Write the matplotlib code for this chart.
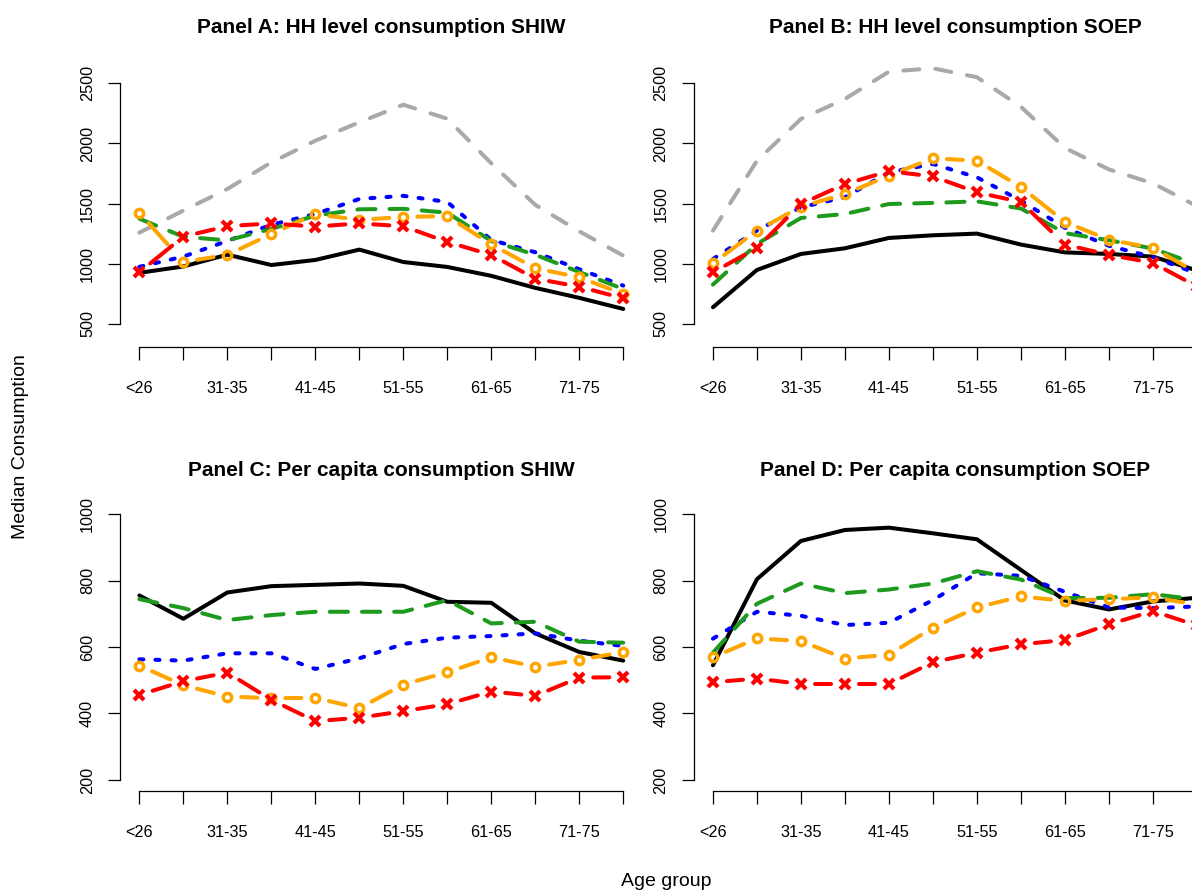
import numpy as np
import matplotlib.pyplot as plt

plt.rcParams['font.family'] = ['Liberation Sans', 'DejaVu Sans']

age_groups = ['<26', '26-30', '31-35', '36-40', '41-45', '46-50',
              '51-55', '56-60', '61-65', '66-70', '71-75', '>75']

# Panel A: HH level consumption SHIW
a_black = [925, 978, 1076, 990, 1032, 1118, 1015, 974, 900, 800, 717, 625]
a_gray = [1259, 1442, 1622, 1843, 2023, 2176, 2322, 2206, 1835, 1490, 1270, 1068]
a_blue = [975, 1060, 1190, 1325, 1414, 1539, 1565, 1514, 1198, 1096, 955, 819]
a_green = [1375, 1225, 1195, 1290, 1400, 1453, 1457, 1425, 1190, 1075, 932, 791]
a_orange = [1425, 1015, 1074, 1248, 1414, 1364, 1390, 1396, 1162, 963, 888, 749]
a_red = [930, 1226, 1313, 1336, 1309, 1336, 1312, 1182, 1074, 877, 810, 713]

# Panel B: HH level consumption SOEP
b_black = [639, 949, 1082, 1129, 1215, 1237, 1251, 1160, 1095, 1082, 1060, 945]
b_gray = [1276, 1857, 2204, 2370, 2597, 2625, 2551, 2305, 1963, 1785, 1669, 1480]
b_blue = [1040, 1276, 1470, 1553, 1760, 1830, 1719, 1525, 1300, 1150, 1056, 920]
b_green = [827, 1165, 1381, 1414, 1497, 1506, 1519, 1460, 1255, 1196, 1127, 995]
b_orange = [1004, 1276, 1475, 1580, 1733, 1877, 1857, 1638, 1348, 1200, 1133, 925]
b_red = [929, 1132, 1497, 1663, 1769, 1727, 1594, 1514, 1160, 1075, 1008, 812]

# Panel C: Per capita consumption SHIW
c_black = [755, 685, 764, 783, 787, 791, 784, 736, 733, 641, 585, 559]
c_gray = []
c_blue = [563, 559, 581, 581, 534, 566, 609, 628, 633, 641, 619, 603]
c_green = [744, 717, 681, 696, 706, 706, 706, 741, 671, 676, 616, 613]
c_orange = [544, 485, 451, 446, 447, 416, 487, 524, 569, 541, 561, 585]
c_red = [456, 497, 523, 441, 377, 387, 407, 428, 466, 453, 508, 509]

# Panel D: Per capita consumption SOEP
d_black = [545, 804, 919, 952, 959, 942, 924, 832, 740, 713, 737, 748]
d_gray = []
d_blue = [625, 706, 694, 666, 673, 741, 822, 814, 766, 719, 717, 722]
d_green = [583, 730, 791, 762, 773, 791, 828, 803, 747, 748, 759, 743]
d_orange = [569, 626, 618, 565, 577, 658, 719, 752, 739, 744, 749, 728]
d_red = [494, 505, 489, 489, 489, 554, 583, 608, 621, 668, 708, 665]

titles = ['Panel A: HH level consumption SHIW', 'Panel B: HH level consumption SOEP',
          'Panel C: Per capita consumption SHIW', 'Panel D: Per capita consumption SOEP']

W, H = 1192, 894
fig = plt.figure(figsize=(W / 100, H / 100), dpi=100)


def rect(left, top, right, bottom):
    return [left / W, 1 - bottom / H, (right - left) / W, (bottom - top) / H]


LW = 2.9
GREEN = '#1e9a1e'


def type_b(ax, x, y, color, dashes, marker, ms, mew, gap=14):
    # R type="b": segments stop short of the points
    tr = ax.transData
    pts = tr.transform(np.column_stack([x, y]))
    inv = tr.inverted()
    for p0, p1 in zip(pts[:-1], pts[1:]):
        d = p1 - p0
        L = np.hypot(*d)
        if L <= 2 * gap:
            continue
        u = d / L
        s = inv.transform(np.vstack([p0 + u * gap, p1 - u * gap]))
        ax.plot(s[:, 0], s[:, 1], color=color, lw=LW, dashes=dashes,
                dash_capstyle='round', solid_capstyle='round')
    ax.plot(x, y, ls='none', marker=marker, ms=ms, mew=mew, mec=color,
            mfc='none', color=color)


panels = [
    (rect(120, 60.7, 642.6, 346.6), (312, 2688), np.arange(500, 2501, 500),
     a_black, a_gray, a_blue, a_green, a_orange, a_red),
    (rect(693.6, 60.7, 1216.2, 346.6), (312, 2688), np.arange(500, 2501, 500),
     b_black, b_gray, b_blue, b_green, b_orange, b_red),
    (rect(120, 503.4, 642.6, 790.6), (168, 1032), np.arange(200, 1001, 200),
     c_black, c_gray, c_blue, c_green, c_orange, c_red),
    (rect(693.6, 503.4, 1216.2, 790.6), (168, 1032), np.arange(200, 1001, 200),
     d_black, d_gray, d_blue, d_green, d_orange, d_red),
]

x = np.arange(1, len(age_groups) + 1)

for (pos, ylim, yt, blk, gry, blu, grn, org, red), title in zip(panels, titles):
    ax = fig.add_axes(pos)
    ax.set_xlim(0.56, 12.44)
    ax.set_ylim(*ylim)

    ax.plot(x, blk, color='black', lw=LW, solid_joinstyle='round', solid_capstyle='round')
    if gry:
        ax.plot(x, gry, color='#a9a9a9', lw=LW, dashes=(4, 4), dash_capstyle='round')
    ax.plot(x, blu, color='blue', lw=LW, dashes=(1, 3), dash_capstyle='round')
    ax.plot(x, grn, color=GREEN, lw=LW, dashes=(4.5, 3.5), dash_capstyle='round')
    type_b(ax, x, org, 'orange', (7, 3), 'o', 6.0, 2.5)
    type_b(ax, x, red, 'red', (7, 3), 'x', 7.2, 3.0)

    for s in ['top', 'right']:
        ax.spines[s].set_visible(False)
    ax.spines['left'].set_bounds(yt[0], yt[-1])
    ax.spines['bottom'].set_bounds(1, 12)
    for s in ['left', 'bottom']:
        ax.spines[s].set_linewidth(0.9)

    ax.set_xticks(x)
    ax.set_xticklabels([g if i % 2 == 0 else '' for i, g in enumerate(age_groups)])
    ax.set_yticks(yt)
    ax.set_yticklabels([str(v) for v in yt], rotation=90, va='center')
    ax.tick_params(axis='both', length=9, width=0.9, labelsize=11.7)
    ax.tick_params(axis='x', pad=15.5)
    ax.tick_params(axis='y', pad=9)
    ax.set_title(title, fontsize=15, fontweight='bold', pad=20)

fig.text(21 / W, 0.5, 'Median Consumption', rotation=90, ha='center', va='center', fontsize=14)
fig.text(666 / W, 1 - 882 / H, 'Age group', ha='center', va='center', fontsize=14)

fig.savefig('out.png', dpi=100)
